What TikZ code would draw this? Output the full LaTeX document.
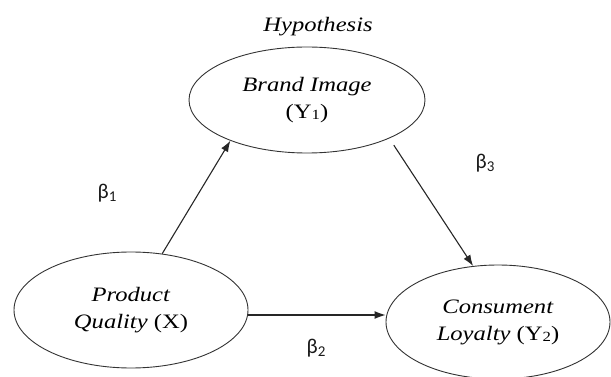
\documentclass[tikz,border=0pt]{standalone}
\usepackage{fontspec}
\setmainfont{Liberation Serif}[FakeStretch=1.2]
\newfontfamily\betafont{Carlito}
\usetikzlibrary{arrows.meta,shapes.geometric}
\newcommand{\subdig}[1]{\raisebox{-1.5pt}{\fontsize{14}{14}\selectfont #1}}
\newcommand{\betalab}[1]{{\betafont\fontsize{21}{21}\selectfont β\raisebox{-3pt}{\fontsize{15}{15}\selectfont #1}}}
\tikzset{
  oval/.style={ellipse, draw=black!80, line width=0.9pt, inner sep=0pt, align=center,
     font=\fontsize{20.5}{27}\selectfont, text=black},
  title/.style={font=\fontsize{20.5}{24}\selectfont\itshape, text=black},
  betanode/.style={inner sep=0pt, text=black!90},
  arr/.style={line width=1.1pt, draw=black!85, -{Latex[length=11pt,width=8pt]}}
}
\begin{document}
\begin{tikzpicture}[x=1pt,y=-1pt]
\useasboundingbox (0,0) rectangle (611,377);
\node[title] (hyp) at (318,27) {Hypothesis};
\node[oval, minimum width=236pt, minimum height=106pt] (bi) at (307,100) {\textit{Brand Image}\\(Y\subdig{1})};
\node[oval, minimum width=234pt, minimum height=116pt] (pq) at (131,310) {\textit{Product}\\\textit{Quality} (X)};
\node[oval, minimum width=224pt, minimum height=114pt] (cl) at (498,322) {\textit{Consument}\\\textit{Loyalty} (Y\subdig{2})};
\node[betanode] (b1) at (107,193) {\betalab{1}};
\node[betanode] (b2) at (316,348) {\betalab{2}};
\node[betanode] (b3) at (485,163) {\betalab{3}};
\draw[arr] (pq.61) -- (bi.208);
\draw[arr, shorten <=8pt] (bi.-25) -- (cl.114);
\draw[arr] ([yshift=-5pt]pq.east) -- ([yshift=7pt]cl.west);
\end{tikzpicture}
\end{document}
